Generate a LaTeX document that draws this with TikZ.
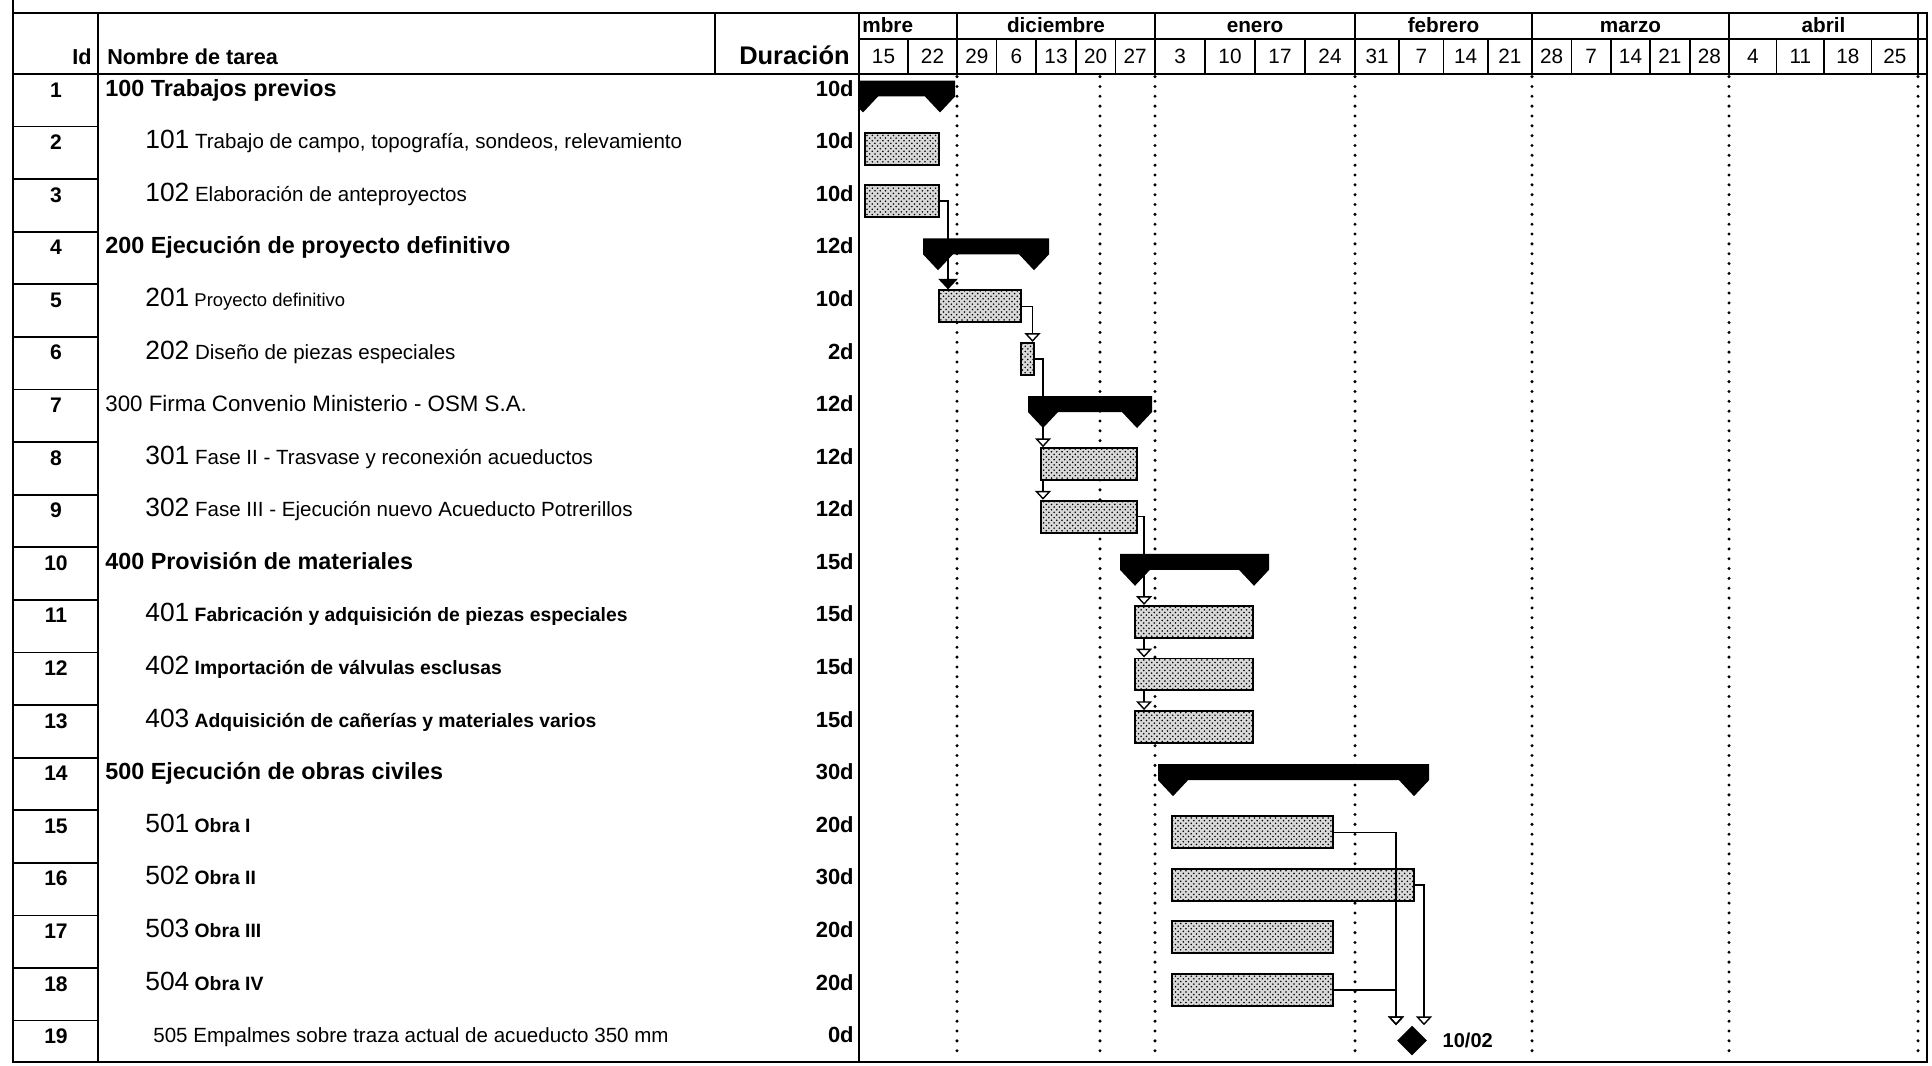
\documentclass[tikz,border=0pt]{standalone}
\usepackage{fontspec}
\setmainfont{Liberation Sans}
\usetikzlibrary{positioning,fit,patterns,shapes.geometric,arrows.meta}

\newcommand{\fsz}[1]{\fontsize{#1}{#1}\selectfont}
\newcommand{\tnum}[1]{{\fsz{15}\mdseries #1}}

\tikzset{
	tabline/.style={line width=1pt},
	dotline/.style={line width=1.9pt, line cap=round, dash pattern=on 0pt off 5.6pt},
	task/.style={draw, line width=1.1pt, fill=gray!30, postaction={pattern=crosshatch dots}, inner sep=0pt},
	summ/.style={fill=black},
	dep/.style={line width=0.8pt},
	depopen/.style={dep, -{Triangle[open, width=9pt, length=5pt]}},
	depfill/.style={dep, -{Triangle[width=11pt, length=6pt]}},
	mstone/.style={diamond, fill=black, inner sep=0pt, minimum width=0.6cm, minimum height=0.6cm},
	idtxt/.style={font=\fsz{12}\bfseries, inner sep=0pt},
	hdtxt/.style={font=\fsz{12.3}\bfseries, inner sep=0pt, anchor=base},
	mtxt/.style={font=\fsz{11.8}\bfseries, inner sep=0pt, anchor=base},
	wktxt/.style={font=\fsz{11.8}, inner sep=0pt, anchor=base},
	sumtxt/.style={font=\fsz{13.3}\bfseries, inner sep=0pt, anchor=base west},
	subtxt/.style={font=\fsz{11.7}, inner sep=0pt, anchor=base west},
	subbold/.style={font=\fsz{11}\bfseries, inner sep=0pt, anchor=base west},
	durtxt/.style={font=\fsz{12.5}\bfseries, inner sep=0pt, anchor=base east},
	datelbl/.style={font=\fsz{11.4}\bfseries, inner sep=0pt}
}

\begin{document}
\begin{tikzpicture}[x=0.02cm, y=-1.052cm]
	\useasboundingbox (0,-0.4068) rectangle (1932,19.859);
	% table lines
	\draw[tabline] (13,-0.16) rectangle (1927,19.783);
	\draw[tabline] (13,-0.4068) -- (13,-0.16);
	\draw[tabline] (13,1) -- (1927,1);
	\draw[tabline] (98,-0.16) -- (98,19.783);
	\draw[tabline] (715,-0.16) -- (715,1);
	\draw[tabline] (859,-0.16) -- (859,19.783);
	\draw[tabline] (859,0.33) -- (1927,0.33);
	\foreach \x in {957,1155,1355,1532,1729,1918}
		\draw[tabline] (\x,-0.16) -- (\x,1);
	\foreach \x in {908,996.6,1036.2,1075.8,1115.4,1205,1255,1305,1399.25,1443.5,1487.75,1571.4,1610.8,1650.2,1689.6,1776.5,1824,1871.5}
		\draw[tabline] (\x,0.33) -- (\x,1);
	\foreach \i in {2,...,19}
		\draw[tabline] (13,\i) -- (98,\i);
	\foreach \x in {957,1100,1155,1355,1532,1729,1918}
		\draw[dotline] (\x,1.05) -- (\x,19.75);

	% header
	\node[hdtxt] (hid) at (82,0.82) {Id};
	\node[hdtxt, anchor=base west] (hname) at (107,0.82) {Nombre de tarea};
	\node[hdtxt, anchor=base east, font=\fsz{14.5}\bfseries] (hdur) at (850,0.82) {Duración};
	\node[mtxt, anchor=base west] (mnov) at (862,0.21) {mbre};
	\foreach \x/\m in {1056/diciembre, 1255/enero, 1443.5/febrero, 1630.5/marzo, 1823.5/abril}
		\node[mtxt] (m\m) at (\x,0.21) {\m};
	\foreach \x/\w [count=\k] in {883.5/15, 932.5/22, 976.8/29, 1016.4/6, 1056/13, 1095.6/20, 1135.2/27, 1180/3, 1230/10, 1280/17, 1330/24, 1377.1/31, 1421.4/7, 1465.6/14, 1509.9/21, 1551.7/28, 1591.1/7, 1630.5/14, 1669.9/21, 1709.3/28, 1752.8/4, 1800.3/11, 1847.8/18, 1894.8/25}
		\node[wktxt] (w\k) at (\x,0.81) {\w};

	% rows
	\foreach \i in {1,...,19}
		\node[idtxt] (id\i) at (56,\i+0.3) {\i};
	\node[sumtxt] (n1) at (105,1.42) {100 Trabajos previos};
	\node[subtxt] (n2) at (145,2.42) {\tnum{101} Trabajo de campo, topografía, sondeos, relevamiento};
	\node[subtxt] (n3) at (145,3.42) {\tnum{102} Elaboración de anteproyectos};
	\node[sumtxt] (n4) at (105,4.42) {200 Ejecución de proyecto definitivo};
	\node[subtxt, font=\fsz{10.5}] (n5) at (145,5.42) {\tnum{201} Proyecto definitivo};
	\node[subtxt] (n6) at (145,6.42) {\tnum{202} Diseño de piezas especiales};
	\node[subtxt, font=\fsz{12.7}] (n7) at (105,7.42) {300 Firma Convenio Ministerio - OSM S.A.};
	\node[subtxt] (n8) at (145,8.42) {\tnum{301} Fase II - Trasvase y reconexión acueductos};
	\node[subtxt] (n9) at (145,9.42) {\tnum{302} Fase III - Ejecución nuevo Acueducto Potrerillos};
	\node[sumtxt] (n10) at (105,10.42) {400 Provisión de materiales};
	\node[subbold] (n11) at (145,11.42) {\tnum{401} Fabricación y adquisición de piezas especiales};
	\node[subbold] (n12) at (145,12.42) {\tnum{402} Importación de válvulas esclusas};
	\node[subbold] (n13) at (145,13.42) {\tnum{403} Adquisición de cañerías y materiales varios};
	\node[sumtxt] (n14) at (105,14.42) {500 Ejecución de obras civiles};
	\node[subbold] (n15) at (145,15.42) {\tnum{501} Obra I};
	\node[subbold] (n16) at (145,16.42) {\tnum{502} Obra II};
	\node[subbold] (n17) at (145,17.42) {\tnum{503} Obra III};
	\node[subbold] (n18) at (145,18.42) {\tnum{504} Obra IV};
	\node[subtxt] (n19) at (153,19.42) {505 Empalmes sobre traza actual de acueducto 350 mm};
	\foreach \i/\d in {1/10d, 2/10d, 3/10d, 4/12d, 5/10d, 6/2d, 7/12d, 8/12d, 9/12d, 10/15d, 11/15d, 12/15d, 13/15d, 14/30d, 15/20d, 16/30d, 17/20d, 18/20d, 19/0d}
		\node[durtxt] (d\i) at (854,\i+0.42) {\d};

	% summary bars
	\begin{scope}
		\clip (859,1) rectangle (1927,2);
		\fill[summ] (848,1.124) -- (955,1.124) -- (955,1.428) -- (940,1.732) -- (925,1.428) -- (878,1.428) -- (863,1.732) -- (848,1.428) -- cycle;
	\end{scope}
	\fill[summ] (923,4.124) -- (1049,4.124) -- (1049,4.428) -- (1034,4.732) -- (1019,4.428) -- (953,4.428) -- (938,4.732) -- (923,4.428) -- cycle;
	\fill[summ] (1028,7.124) -- (1152,7.124) -- (1152,7.428) -- (1137,7.732) -- (1122,7.428) -- (1058,7.428) -- (1043,7.732) -- (1028,7.428) -- cycle;
	\fill[summ] (1120,10.124) -- (1269,10.124) -- (1269,10.428) -- (1254,10.732) -- (1239,10.428) -- (1150,10.428) -- (1135,10.732) -- (1120,10.428) -- cycle;
	\fill[summ] (1158,14.124) -- (1429,14.124) -- (1429,14.428) -- (1414,14.732) -- (1399,14.428) -- (1188,14.428) -- (1173,14.732) -- (1158,14.428) -- cycle;
	\coordinate (s7) at (1043,7.732);

	% task bars
	\node[task, fit={(865,2.114) (939,2.722)}] (b2) {};
	\node[task, fit={(865,3.114) (939,3.722)}] (b3) {};
	\node[task, fit={(939,5.114) (1021,5.722)}] (b5) {};
	\node[task, fit={(1021,6.114) (1034,6.722)}] (b6) {};
	\node[task, fit={(1041,8.114) (1137,8.722)}] (b8) {};
	\node[task, fit={(1041,9.114) (1137,9.722)}] (b9) {};
	\node[task, fit={(1135,11.114) (1253,11.722)}] (b11) {};
	\node[task, fit={(1135,12.114) (1253,12.722)}] (b12) {};
	\node[task, fit={(1135,13.114) (1253,13.722)}] (b13) {};
	\node[task, fit={(1172,15.114) (1333,15.722)}] (b15) {};
	\node[task, fit={(1172,16.114) (1414,16.722)}] (b16) {};
	\node[task, fit={(1172,17.114) (1333,17.722)}] (b17) {};
	\node[task, fit={(1172,18.114) (1333,18.722)}] (b18) {};
	\node[mstone] (m19) at (1412,19.38) {};
	\node[datelbl, right=0.3cm of m19] (t19) {10/02};

	% links
	\draw[depfill] (b3.east) -| ([xshift=0.2cm]b5.north west);
	\draw[depopen] (b5.east) -| ([xshift=0.1cm]b6.north);
	\draw[dep] (b6.east) -| (s7);
	\draw[depopen] (s7) -- (s7 |- b8.north);
	\draw[depopen] (s7 |- b8.south) -- (s7 |- b9.north);
	\draw[depopen] (b9.east) -| ([xshift=0.2cm]b11.north west);
	\draw[depopen] ([xshift=0.2cm]b11.south west) -- ([xshift=0.2cm]b12.north west);
	\draw[depopen] ([xshift=0.2cm]b12.south west) -- ([xshift=0.2cm]b13.north west);
	\draw[depopen] (b15.east) -| ([xshift=-0.32cm]m19.north);
	\draw[depopen] (b18.east) -| ([xshift=-0.32cm]m19.north);
	\draw[depopen] (b16.east) -| ([xshift=0.24cm]m19.north);
\end{tikzpicture}
\end{document}
